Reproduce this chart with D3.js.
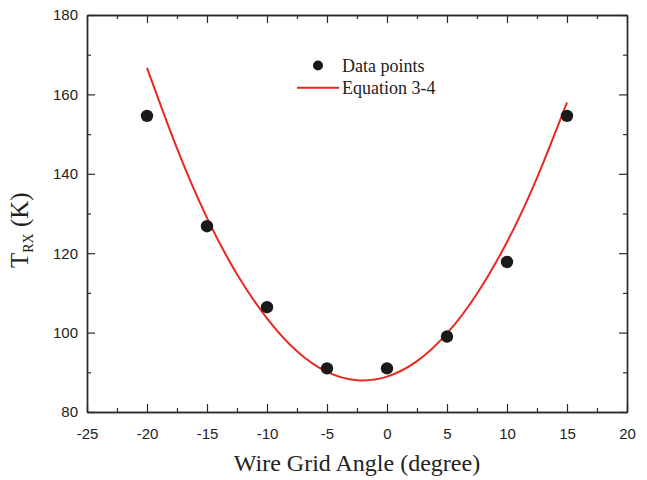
<!DOCTYPE html>
<html>
<head>
<meta charset="utf-8">
<script src="https://cdn.jsdelivr.net/npm/d3@7"></script>
<style>
  html, body { margin: 0; padding: 0; background: #fff; }
  svg { display: block; }
</style>
</head>
<body>
<svg id="chart" width="647" height="480"></svg>
<script>
// Measured receiver temperature versus wire grid angle
const angles = [-20, -15, -10, -5, 0, 5, 10, 15];
const trx = [154.6, 126.8, 106.4, 91.0, 91.0, 99.0, 117.8, 154.6];

// Fitted curve (Equation 3-4), sampled along the angle range
const fitAngles = [-20, -17.5, -15, -12.5, -10, -7.5, -5, -2.5, 0, 2.5, 5, 7.5, 10, 12.5, 15];
const fitTrx = [166.7, 146.4, 128.9, 114.7, 103.6, 95.3, 90.1, 88.0, 88.9, 92.8, 99.8, 109.8, 122.8, 139.0, 158.0];

const xTicks = [-25, -20, -15, -10, -5, 0, 5, 10, 15, 20];
const yTicks = [80, 100, 120, 140, 160, 180];

const svg = d3.select("#chart");
const plotLeft = 87, plotRight = 627, plotTop = 15, plotBottom = 412;

const x = d3.scaleLinear().domain([-25, 20]).range([plotLeft, plotRight]);
const y = d3.scaleLinear().domain([80, 180]).range([plotBottom, plotTop]);

const axisColor = "#2b2b2b";
const minorX = d3.range(-22.5, 20, 5);
const minorY = d3.range(90, 180, 20);
const plain = d => String(d);

// Bottom axis with labels, inward ticks
const gx = svg.append("g").attr("transform", `translate(0,${plotBottom})`)
  .call(d3.axisBottom(x).tickValues(xTicks).tickSize(-8).tickSizeOuter(0).tickPadding(16)
    .tickFormat(plain));
svg.append("g").attr("transform", `translate(0,${plotBottom})`)
  .call(d3.axisBottom(x).tickValues(minorX).tickSize(-4).tickSizeOuter(0).tickFormat(""));

// Top axis: ticks only
svg.append("g").attr("transform", `translate(0,${plotTop})`)
  .call(d3.axisTop(x).tickValues(xTicks).tickSize(-8).tickSizeOuter(0).tickFormat(""));
svg.append("g").attr("transform", `translate(0,${plotTop})`)
  .call(d3.axisTop(x).tickValues(minorX).tickSize(-4).tickSizeOuter(0).tickFormat(""));

// Left axis with labels
const gy = svg.append("g").attr("transform", `translate(${plotLeft},0)`)
  .call(d3.axisLeft(y).tickValues(yTicks).tickSize(-8).tickSizeOuter(0).tickPadding(9)
    .tickFormat(plain));
svg.append("g").attr("transform", `translate(${plotLeft},0)`)
  .call(d3.axisLeft(y).tickValues(minorY).tickSize(-4).tickSizeOuter(0).tickFormat(""));

// Right axis: ticks only
svg.append("g").attr("transform", `translate(${plotRight},0)`)
  .call(d3.axisRight(y).tickValues(yTicks).tickSize(-8).tickSizeOuter(0).tickFormat(""));
svg.append("g").attr("transform", `translate(${plotRight},0)`)
  .call(d3.axisRight(y).tickValues(minorY).tickSize(-4).tickSizeOuter(0).tickFormat(""));

svg.selectAll(".domain").attr("stroke", axisColor).attr("stroke-width", 1.4);
svg.selectAll(".tick line").attr("stroke", axisColor).attr("stroke-width", 1.2);
svg.selectAll(".tick text")
  .attr("font-family", "'Liberation Sans', Arial, sans-serif")
  .attr("font-size", 15).attr("fill", "#222");
gx.selectAll(".tick text").attr("dy", "0.71em");

// Fitted curve
const line = d3.line()
  .x((d, i) => x(fitAngles[i]))
  .y(d => y(d))
  .curve(d3.curveNatural);
svg.append("path")
  .datum(fitTrx)
  .attr("d", line)
  .attr("fill", "none")
  .attr("stroke", "#e8291f")
  .attr("stroke-width", 2);

// Data points
svg.append("g").selectAll("circle")
  .data(trx)
  .join("circle")
  .attr("cx", (d, i) => x(angles[i]))
  .attr("cy", d => y(d))
  .attr("r", 6.2)
  .attr("fill", "#1a1a1a");

// Legend
const serif = "'Liberation Serif', 'Times New Roman', serif";
const legend = svg.append("g");
legend.append("circle").attr("cx", 318).attr("cy", 65.5).attr("r", 5).attr("fill", "#1a1a1a");
legend.append("text").attr("x", 342).attr("y", 71.5)
  .attr("font-family", serif).attr("font-size", 18).attr("fill", "#222").text("Data points");
legend.append("line").attr("x1", 297).attr("x2", 339).attr("y1", 87.7).attr("y2", 87.7)
  .attr("stroke", "#e8291f").attr("stroke-width", 2);
legend.append("text").attr("x", 342).attr("y", 93.5)
  .attr("font-family", serif).attr("font-size", 18).attr("fill", "#222").text("Equation 3-4");

// Axis titles
svg.append("text")
  .attr("x", (plotLeft + plotRight) / 2).attr("y", 471)
  .attr("text-anchor", "middle")
  .attr("font-family", serif).attr("font-size", 24).attr("fill", "#222")
  .text("Wire Grid Angle (degree)");

const yTitle = svg.append("text")
  .attr("transform", "translate(28,268) rotate(-90)")
  .attr("font-family", serif).attr("font-size", 25).attr("fill", "#222");
yTitle.append("tspan").text("T");
yTitle.append("tspan").attr("font-size", 14).attr("dy", 5).text("RX");
yTitle.append("tspan").attr("dy", -5).text(" (K)");
</script>
</body>
</html>
